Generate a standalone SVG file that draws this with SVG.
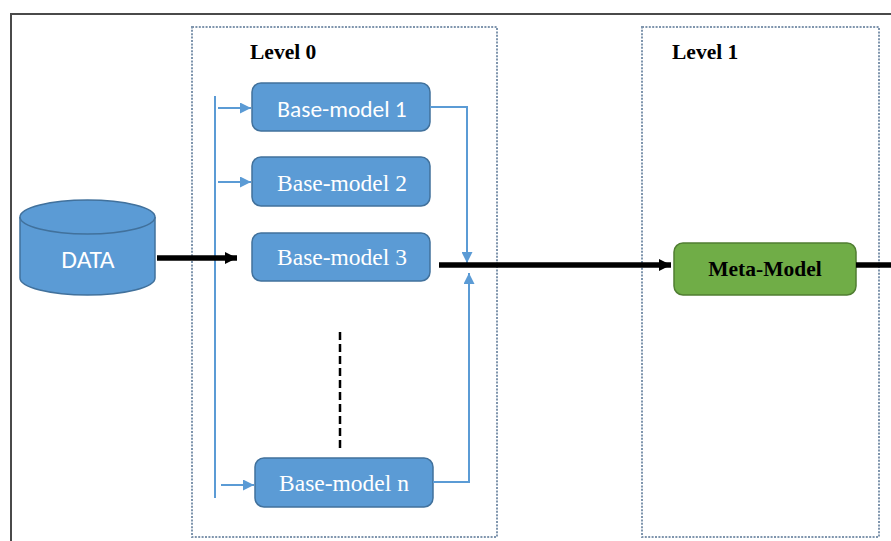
<svg xmlns="http://www.w3.org/2000/svg" width="891" height="541" viewBox="0 0 891 541">
  <style>
    .frame { fill: none; stroke: #4a4a4a; stroke-width: 2; }
    .level { fill: none; stroke: #7f95ad; stroke-width: 2; stroke-dasharray: 2 1.4; }
    .lvl-label { font-family: "Liberation Serif", "Times New Roman", serif; font-weight: bold; font-size: 21.5px; fill: #000; }
    .base { fill: #5b9bd5; stroke: #41719c; stroke-width: 1.5; }
    .base-serif { font-family: "Liberation Serif", "Times New Roman", serif; font-size: 23.5px; fill: #fff; text-anchor: middle; }
    .base-sans { font-family: "Carlito", "Liberation Sans", Arial, sans-serif; font-size: 23.4px; fill: #fff; text-anchor: middle; }
    .feed { fill: none; stroke: #5b9bd5; stroke-width: 2; }
    .main { fill: none; stroke: #000; stroke-width: 5.5; }
  </style>
  <defs>
    <marker id="blueArrow" viewBox="0 0 10 10" refX="10" refY="5" markerWidth="5.5" markerHeight="5.5" markerUnits="strokeWidth" orient="auto">
      <path d="M0,0 L10,5 L0,10 z" fill="#5b9bd5"/>
    </marker>
    <marker id="blackArrow" viewBox="0 0 10 10" refX="10" refY="5" markerWidth="2.2" markerHeight="2.6" markerUnits="strokeWidth" orient="auto">
      <path d="M0,0 L10,5 L0,10 z" fill="#000"/>
    </marker>
  </defs>

  <rect width="891" height="541" fill="#fff"/>

  <!-- outer frame -->
  <path class="frame" d="M11,541 V14 H891"/>

  <!-- level containers -->
  <g id="level0">
    <rect class="level" x="192" y="27" width="305" height="510"/>
    <text class="lvl-label" x="250" y="59">Level 0</text>
  </g>
  <g id="level1">
    <rect class="level" x="642" y="27" width="237" height="510"/>
    <text class="lvl-label" x="672" y="59">Level 1</text>
  </g>

  <!-- data source -->
  <g id="data">
    <path d="M20,217 V278 A67.5,17 0 0 0 155,278 V217" fill="#5b9bd5" stroke="#41719c" stroke-width="1.5"/>
    <ellipse cx="87.5" cy="217" rx="67.5" ry="17" fill="#5b9bd5" stroke="#41719c" stroke-width="1.5"/>
    <text x="88" y="268" font-family="Carlito, 'Liberation Sans', Arial, sans-serif" font-size="25.5" fill="#fff" text-anchor="middle">DATA</text>
  </g>

  <!-- base models -->
  <g id="base-model-1">
    <rect class="base" x="252" y="83" width="178" height="48" rx="9"/>
    <text class="base-sans" x="342" y="117">Base-model 1</text>
  </g>
  <g id="base-model-2">
    <rect class="base" x="252" y="157" width="178" height="49" rx="9"/>
    <text class="base-serif" x="342" y="191">Base-model 2</text>
  </g>
  <g id="base-model-3">
    <rect class="base" x="252" y="233" width="178" height="48" rx="9"/>
    <text class="base-serif" x="342" y="265">Base-model 3</text>
  </g>
  <g id="base-model-n">
    <rect class="base" x="255" y="458" width="178" height="49" rx="9"/>
    <text class="base-serif" x="344" y="491">Base-model n</text>
  </g>

  <!-- meta model -->
  <g id="meta-model">
    <rect x="674" y="243" width="182" height="52" rx="9" fill="#70ad47" stroke="#507e32" stroke-width="1.5"/>
    <text x="765" y="276" font-family="'Liberation Serif', 'Times New Roman', serif" font-weight="bold" font-size="21.5" fill="#000" text-anchor="middle">Meta-Model</text>
  </g>

  <!-- connectors -->
  <g id="connectors">
    <!-- input bus -->
    <line class="feed" x1="215" y1="96" x2="215" y2="498"/>
    <line class="feed" x1="218" y1="108" x2="251" y2="108" marker-end="url(#blueArrow)"/>
    <line class="feed" x1="218" y1="182" x2="251" y2="182" marker-end="url(#blueArrow)"/>
    <line class="feed" x1="221" y1="485" x2="254" y2="485" marker-end="url(#blueArrow)"/>
    <!-- data into level 0 -->
    <line class="main" x1="157" y1="258" x2="237" y2="258" marker-end="url(#blackArrow)"/>
    <!-- outputs collected -->
    <polyline class="feed" points="430,107 467,107 467,263" marker-end="url(#blueArrow)"/>
    <polyline class="feed" points="433,482 469,482 469,273" marker-end="url(#blueArrow)"/>
    <!-- predictions to meta model -->
    <line class="main" x1="439" y1="265" x2="671" y2="265" marker-end="url(#blackArrow)"/>
    <line class="main" x1="856" y1="265" x2="891" y2="265"/>
    <!-- omitted models -->
    <line x1="340" y1="332" x2="340" y2="450" stroke="#000" stroke-width="2.5" stroke-dasharray="8 4"/>
  </g>
</svg>
